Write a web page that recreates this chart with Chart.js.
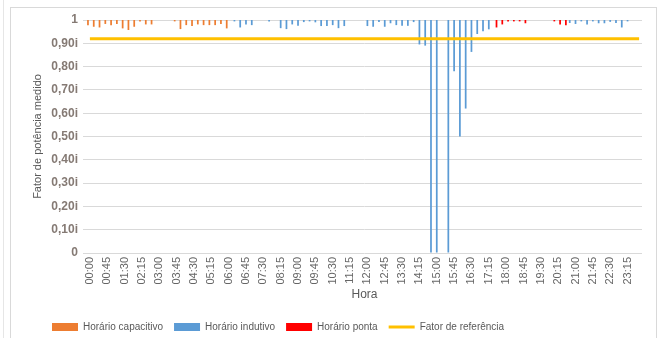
<!DOCTYPE html>
<html>
<head>
<meta charset="utf-8">
<script src="https://cdn.jsdelivr.net/npm/chart.js@4.4.1/dist/chart.umd.min.js"></script>
<style>
  html, body { margin: 0; padding: 0; background: #fff; }
  #wrap { position: relative; width: 659px; height: 338px; overflow: hidden; }
  .edge { position: absolute; left: 3px; top: 0; height: 338px; border-left: 1px solid #e6e6e6; }
  .frame { position: absolute; left: 10px; top: 7px; width: 645px; height: 340px; border: 1px solid #d9d9d9; }
  canvas { position: absolute; left: 0; top: 0; }
</style>
</head>
<body>
<div id="wrap">
  <div class="edge"></div>
  <div class="frame"></div>
  <canvas id="fpChart" width="659" height="338"></canvas>
</div>
<script>
// Data (15 min slots, bars hang down from 1)
const _ = null;
const hours = [
  '00:00','00:15','00:30','00:45','01:00','01:15','01:30','01:45','02:00','02:15','02:30','02:45',
  '03:00','03:15','03:30','03:45','04:00','04:15','04:30','04:45','05:00','05:15','05:30','05:45',
  '06:00','06:15','06:30','06:45','07:00','07:15','07:30','07:45','08:00','08:15','08:30','08:45',
  '09:00','09:15','09:30','09:45','10:00','10:15','10:30','10:45','11:00','11:15','11:30','11:45',
  '12:00','12:15','12:30','12:45','13:00','13:15','13:30','13:45','14:00','14:15','14:30','14:45',
  '15:00','15:15','15:30','15:45','16:00','16:15','16:30','16:45','17:00','17:15','17:30','17:45',
  '18:00','18:15','18:30','18:45','19:00','19:15','19:30','19:45','20:00','20:15','20:30','20:45',
  '21:00','21:15','21:30','21:45','22:00','22:15','22:30','22:45','23:00','23:15','23:30','23:45'
];

const capacitivo = [
  .978,.971,.968,.983,.978,.983,.964,.957,.971,.994,.981,.981,
  _,_,_,.994,.961,.978,.974,.981,.978,.978,.978,.983,
  .964,_,_,_,_,_,_,_,_,_,_,_,
  _,_,_,_,_,_,_,_,_,_,_,_,
  _,_,_,_,_,_,_,_,_,_,_,_,
  _,_,_,_,_,_,_,_,_,_,_,_,
  _,_,_,_,_,_,_,_,_,_,_,_,
  _,_,_,_,_,_,_,_,_,_,_,_
];

const indutivo = [
  _,_,_,_,_,_,_,_,_,_,_,_,
  _,_,_,_,_,_,_,_,_,_,_,_,
  _,.994,.968,.981,.978,_,_,.994,_,.965,.961,.981,
  .975,.991,.994,.990,.974,.974,.978,.965,.974,_,_,_,
  .974,.971,.991,.971,.986,.978,.975,.975,.991,.895,.890,0,
  0,_,0,.780,.500,.620,.863,.940,.952,.960,_,_,
  _,_,_,_,_,_,_,_,_,_,_,.987,
  .983,.994,.981,.994,.986,.986,.992,.987,.968,.994,_,_
];

const ponta = [
  _,_,_,_,_,_,_,_,_,_,_,_,
  _,_,_,_,_,_,_,_,_,_,_,_,
  _,_,_,_,_,_,_,_,_,_,_,_,
  _,_,_,_,_,_,_,_,_,_,_,_,
  _,_,_,_,_,_,_,_,_,_,_,_,
  _,_,_,_,_,_,_,_,_,_,.968,.981,
  .994,.994,.994,.986,_,_,_,_,.994,.981,.977,_,
  _,_,_,_,_,_,_,_,_,_,_,_
];

const fatorReferencia = 0.92;
const yTickLabels = ['0','0,10i','0,20i','0,30i','0,40i','0,50i','0,60i','0,70i','0,80i','0,90i','1'];

const FONT = 'Liberation Sans, Arial, sans-serif';
const GREY = '#595959';

// bars go from the value up to 1
const hang = arr => arr.map(v => v === null ? null : [v, 1]);

const legendPlace = {
    id: 'legendPlace',
    afterLayout(chart) {
        chart.legend.left = 41;
        chart.legend.top += 4;
    }
};

const ctx = document.getElementById('fpChart').getContext('2d');
new Chart(ctx, {
    type: 'bar',
    data: {
        labels: hours,
        datasets: [
            { label: 'Horário capacitivo', data: hang(capacitivo), backgroundColor: '#ED7D31', order: 1 },
            { label: 'Horário indutivo', data: hang(indutivo), backgroundColor: '#5B9BD5', order: 1 },
            { label: 'Horário ponta', data: hang(ponta), backgroundColor: '#FF0000', order: 1 },
            {
                type: 'line',
                label: 'Fator de referência',
                data: hours.map(() => fatorReferencia),
                borderColor: '#FFC000',
                backgroundColor: '#FFC000',
                borderWidth: 3,
                pointRadius: 0,
                order: 0
            }
        ]
    },
    options: {
        responsive: false,
        animation: false,
        layout: { padding: { top: 20, right: 17, bottom: 0, left: 0 } },
        datasets: {
            bar: { categoryPercentage: 1.0, barPercentage: 0.9 }
        },
        scales: {
            x: {
                grid: { display: false, drawTicks: false },
                border: { display: false },
                ticks: {
                    autoSkip: false,
                    minRotation: 90,
                    maxRotation: 90,
                    padding: 4,
                    color: '#666666',
                    font: { family: FONT, size: 11 },
                    callback: (v, i) => i % 3 === 0 ? hours[i] : ''
                },
                title: {
                    display: true,
                    text: 'Hora',
                    color: GREY,
                    font: { family: FONT, size: 12 },
                    padding: { top: 3, bottom: 5 }
                },
                afterFit: s => { s.height = 54; }
            },
            y: {
                min: 0,
                max: 1,
                grid: { color: '#d9d9d9', lineWidth: 1, tickLength: 4 },
                border: { display: false },
                ticks: {
                    stepSize: 0.1,
                    padding: 5,
                    color: '#857a74',
                    font: { family: FONT, size: 12, weight: 'bold' },
                    callback: (v, i) => yTickLabels[i]
                },
                title: {
                    display: true,
                    text: 'Fator de potência medido',
                    color: GREY,
                    font: { family: FONT, size: 11 },
                    padding: { top: 31, bottom: 0 }
                },
                afterFit: s => { s.width = 87; }
            }
        },
        plugins: {
            legend: {
                position: 'bottom',
                align: 'start',
                labels: {
                    usePointStyle: true,
                    pointStyleWidth: 26,
                    boxHeight: 8,
                    padding: 11,
                    color: GREY,
                    font: { family: FONT, size: 10 },
                    generateLabels: chart => chart.data.datasets.map((ds, i) => ({
                        text: ds.label,
                        fillStyle: ds.type === 'line' ? ds.borderColor : ds.backgroundColor,
                        strokeStyle: ds.type === 'line' ? ds.borderColor : ds.backgroundColor,
                        lineWidth: ds.type === 'line' ? 3 : 0,
                        pointStyle: ds.type === 'line' ? 'line' : 'rect',
                        fontColor: GREY,
                        datasetIndex: i
                    }))
                }
            },
            tooltip: { enabled: false }
        }
    },
    plugins: [legendPlace]
});
</script>
</body>
</html>
